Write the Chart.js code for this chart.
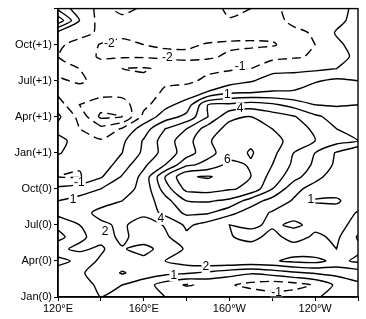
<!DOCTYPE html>
<html>
<head>
<meta charset="utf-8">
<script src="https://cdn.jsdelivr.net/npm/chart.js@4"></script>
<style>
  html, body { margin: 0; padding: 0; background: #fff; }
</style>
</head>
<body>
<canvas id="chartjs-0" width="366" height="319"></canvas>
<script>
// grid columns, degrees east
var lons = [120, 130, 140, 150, 160, 170, 180, 190, 200, 210, 220, 230, 240, 250, 260];
// grid rows, months after Jan(0), written top of the picture first
var rowMonths = [24, 23, 22, 21, 20, 19, 18, 17, 16, 15, 14, 13, 12, 11, 10, 9, 8, 7, 6, 5, 4, 3, 2, 1, 0];
// anomaly values, one row per month
var anomaly = [
  [ 0.8, -0.6, -1.2, -0.8, -1.1, -1.5, -1.6, -1.4, -2.3, -2.0, -1.2, -0.7, -0.6, -0.4,  0.3],
  [ 2.7,  0.0, -1.4, -1.2, -1.6, -1.2, -1.1, -1.0, -1.9, -1.6, -1.3, -0.8, -0.7, -0.3,  0.4],
  [-0.3, -0.8, -1.1, -1.7, -1.5, -1.6, -1.5, -1.4, -1.5, -1.6, -1.7, -1.2, -0.9,  0.1,  0.5],
  [-0.9, -1.2, -2.1, -2.3, -2.0, -1.9, -1.8, -2.1, -2.2, -2.2, -2.1, -1.6, -1.0, -0.2,  0.4],
  [-1.0, -1.3, -2.2, -2.1, -2.1, -2.2, -2.3, -2.2, -1.8, -1.5, -1.3, -1.1, -0.9, -0.3,  0.2],
  [-0.8, -1.0, -1.3, -1.0, -0.9, -1.2, -1.3, -1.2, -1.1, -1.0, -0.3, -0.3, -0.2,  0.0,  0.1],
  [-1.1, -0.9, -1.2, -1.4, -1.2, -1.1, -1.2, -0.8, -0.5, -0.1,  0.4,  0.6,  0.9,  1.2,  1.0],
  [-1.2, -1.3, -1.6, -1.7, -1.3, -0.9, -0.5,  0.1,  0.9,  1.0,  1.1,  1.1,  1.5,  1.9,  1.7],
  [-0.5, -2.0, -2.6, -2.4, -1.3, -0.3,  0.4,  3.0,  3.2,  3.5,  3.2,  2.6,  2.0,  1.9,  2.0],
  [ 0.2, -1.3, -3.2, -3.0, -0.7,  0.5,  1.3,  3.0,  4.8,  5.0,  4.5,  4.1,  3.2,  2.6,  2.4],
  [-0.3, -1.0, -1.7, -0.9,  0.5,  2.0,  3.0,  4.5,  5.3,  5.5,  5.0,  4.5,  3.8,  3.0,  2.5],
  [ 0.3, -0.4, -0.9, -0.2,  1.1,  2.5,  3.6,  4.9,  5.5,  5.8,  5.3,  4.7,  4.0,  3.4,  3.0],
  [ 0.1, -0.5, -1.0,  0.0,  1.2,  2.4,  3.5,  4.7,  5.5,  6.1,  5.3,  4.0,  3.0,  1.9,  1.0],
  [-0.6, -0.9, -0.6,  0.5,  1.8,  3.0,  4.8,  5.3,  6.3,  5.9,  5.0,  3.8,  2.8,  1.8,  1.2],
  [-1.0, -1.1, -0.1,  1.1,  2.3,  5.0,  6.9,  7.1,  6.6,  6.0,  4.6,  3.4,  2.3,  1.5,  1.3],
  [ 0.2,  0.6,  1.0,  1.6,  2.3,  4.5,  6.3,  6.4,  6.1,  5.8,  4.0,  2.3,  1.6,  1.3,  1.6],
  [ 1.0,  1.3,  1.6,  2.0,  2.4,  3.6,  5.0,  5.1,  4.8,  3.5,  2.6,  1.9,  0.9,  0.9,  1.4],
  [ 1.3,  1.6,  2.3,  2.9,  2.3,  3.3,  4.2,  4.1,  3.3,  2.5,  1.9,  1.6,  1.5,  1.3,  2.1],
  [ 0.3,  1.0,  1.8,  2.2,  1.4,  2.1,  3.2,  2.6,  2.0,  2.2,  1.8,  2.2,  1.7,  1.5,  2.5],
  [-0.4,  0.8,  1.4,  2.3,  1.3,  1.8,  2.8,  3.0,  2.1,  1.6,  2.4,  1.5,  2.2,  1.8,  3.1],
  [ 0.8,  1.2,  0.8,  1.9,  2.4,  1.5,  2.1,  2.6,  2.5,  2.6,  2.2,  2.6,  2.3,  2.0,  2.8],
  [-0.4,  0.3,  1.2,  1.4,  1.7,  2.0,  2.5,  2.8,  2.9,  2.8,  2.9,  3.2,  3.3,  2.7,  3.2],
  [ 0.6,  0.9,  1.3,  2.1,  1.5,  1.3,  1.1,  0.8,  0.4,  0.1,  0.4,  0.8,  1.1,  1.3,  1.5],
  [ 0.6,  0.8,  1.1,  1.0,  0.5, -0.5, -1.1, -0.8, -0.9, -1.3, -1.6, -1.4, -0.9,  0.2,  0.8],
  [ 0.7,  0.9,  1.0,  0.6,  0.3,  0.0, -0.2, -0.4, -0.3, -0.3, -0.5, -0.4, -0.1,  0.3,  0.6]
];
var levels = [-3, -2, -1, 0, 1, 2, 3, 4, 5, 6, 7];
var monthTickLabels = ["Jan(0)", "Apr(0)", "Jul(0)", "Oct(0)", "Jan(+1)", "Apr(+1)", "Jul(+1)", "Oct(+1)"];
// contour labels: text, longitude, month
var labelText = ["-2", "-2", "-1", "1", "4", "6", "-1", "1", "4", "2", "1", "1", "2", "-1"];
var labelLon = [144, 171, 205, 199, 205, 199, 130, 127, 168, 142, 238, 174, 189, 222];
var labelMonth = [21.1, 19.9, 19.2, 16.8, 15.7, 11.4, 9.5, 8.1, 6.5, 5.4, 8.1, 1.8, 2.5, 0.4];

// rows bottom first for the contouring
var grid = anomaly.slice().reverse();
var ys = rowMonths.slice().reverse();

function lonLabel(v) {
    if (v <= 180) return v + "°E";
    return (360 - v) + "°W";
}

// marching squares, one segment list per level
function contourSegments(level) {
    var segs = [];
    for (var j = 0; j < ys.length - 1; j++) {
        for (var i = 0; i < lons.length - 1; i++) {
            var v0 = grid[j][i], v1 = grid[j][i + 1], v2 = grid[j + 1][i + 1], v3 = grid[j + 1][i];
            var x0 = lons[i], x1 = lons[i + 1], y0 = ys[j], y1 = ys[j + 1];
            var idx = (v0 > level ? 1 : 0) | (v1 > level ? 2 : 0) | (v2 > level ? 4 : 0) | (v3 > level ? 8 : 0);
            if (idx === 0 || idx === 15) continue;
            var e = [
                [x0 + (level - v0) / (v1 - v0) * (x1 - x0), y0],
                [x1, y0 + (level - v1) / (v2 - v1) * (y1 - y0)],
                [x0 + (level - v3) / (v2 - v3) * (x1 - x0), y1],
                [x0, y0 + (level - v0) / (v3 - v0) * (y1 - y0)]
            ];
            var centre = (v0 + v1 + v2 + v3) / 4;
            var pairs;
            if (idx === 5) {
                pairs = centre > level ? [[0, 1], [2, 3]] : [[3, 0], [1, 2]];
            } else if (idx === 10) {
                pairs = centre > level ? [[3, 0], [1, 2]] : [[0, 1], [2, 3]];
            } else {
                var crossed = [];
                if ((idx & 1) !== ((idx & 2) >> 1)) crossed.push(0);
                if (((idx & 2) >> 1) !== ((idx & 4) >> 2)) crossed.push(1);
                if (((idx & 8) >> 3) !== ((idx & 4) >> 2)) crossed.push(2);
                if ((idx & 1) !== ((idx & 8) >> 3)) crossed.push(3);
                pairs = [crossed];
            }
            for (var p = 0; p < pairs.length; p++) {
                segs.push([e[pairs[p][0]], e[pairs[p][1]]]);
            }
        }
    }
    return segs;
}

// join the little segments into long lines so the dashes run on
function joinSegments(segs) {
    var key = function(pt) { return pt[0].toFixed(6) + "," + pt[1].toFixed(6); };
    var ends = {};
    segs.forEach(function(s, k) {
        [key(s[0]), key(s[1])].forEach(function(kk) {
            if (!ends[kk]) ends[kk] = [];
            ends[kk].push(k);
        });
    });
    var used = [];
    var lines = [];
    for (var k = 0; k < segs.length; k++) {
        if (used[k]) continue;
        used[k] = true;
        var line = [segs[k][0], segs[k][1]];
        for (var pass = 0; pass < 2; pass++) {
            while (true) {
                var tip = pass === 0 ? line[line.length - 1] : line[0];
                var list = ends[key(tip)];
                var next = -1;
                for (var c = 0; c < list.length; c++) {
                    if (!used[list[c]]) { next = list[c]; break; }
                }
                if (next < 0) break;
                used[next] = true;
                var s = segs[next];
                var other = key(s[0]) === key(tip) ? s[1] : s[0];
                if (pass === 0) line.push(other); else line.unshift(other);
            }
        }
        lines.push(line);
    }
    return lines;
}

var datasets = [];
levels.forEach(function(level) {
    joinSegments(contourSegments(level)).forEach(function(line) {
        datasets.push({
            data: line.map(function(pt) { return {x: pt[0], y: pt[1]}; }),
            showLine: true,
            pointRadius: 0,
            borderColor: "#000",
            borderWidth: 1.4,
            borderDash: level < 0 ? [9, 5] : [],
            tension: 0.25,
            fill: false
        });
    });
});

var frame = {
    id: "frame",
    afterDatasetsDraw: function(chart) {
        var ctx = chart.ctx, a = chart.chartArea;
        var xs = chart.scales.x, yscale = chart.scales.y;
        ctx.save();
        ctx.font = "12px 'Liberation Sans', Arial, sans-serif";
        ctx.textAlign = "center";
        ctx.textBaseline = "middle";
        for (var i = 0; i < labelText.length; i++) {
            var px = xs.getPixelForValue(labelLon[i]);
            var py = yscale.getPixelForValue(labelMonth[i]);
            var w = ctx.measureText(labelText[i]).width;
            ctx.fillStyle = "#fff";
            ctx.fillRect(px - w / 2 - 1, py - 6, w + 2, 12);
            ctx.fillStyle = "#000";
            ctx.fillText(labelText[i], px, py);
        }
        ctx.strokeStyle = "#000";
        ctx.lineWidth = 1.4;
        ctx.strokeRect(a.left, a.top, a.right - a.left, a.bottom - a.top);
        ctx.restore();
    }
};

var tickFont = {family: "'Liberation Sans', Arial, sans-serif", size: 11};

new Chart(document.getElementById("chartjs-0"), {
    type: "scatter",
    data: {datasets: datasets},
    options: {
        responsive: false,
        animation: false,
        layout: {padding: {left: 0, right: 8, top: 5, bottom: 0}},
        plugins: {legend: {display: false}, tooltip: {enabled: false}},
        scales: {
            x: {
                type: "linear",
                min: 120,
                max: 260,
                afterFit: function(s) { s.height = 22; },
                ticks: {
                    stepSize: 20,
                    autoSkip: false,
                    maxRotation: 0,
                    color: "#000",
                    font: tickFont,
                    padding: 1,
                    callback: function(v) { return (v - 120) % 40 === 0 && v < 260 ? lonLabel(v) : ""; }
                },
                grid: {drawOnChartArea: false, drawTicks: true, tickLength: 4, color: "#000"},
                border: {display: true, color: "#000", width: 1.4}
            },
            y: {
                type: "linear",
                min: 0,
                max: 24,
                afterFit: function(s) { s.width = 58; },
                ticks: {
                    stepSize: 3,
                    autoSkip: false,
                    color: "#000",
                    font: tickFont,
                    padding: 2,
                    callback: function(v) { return monthTickLabels[v / 3] || ""; }
                },
                grid: {drawOnChartArea: false, drawTicks: true, tickLength: 4, color: "#000"},
                border: {display: true, color: "#000", width: 1.4}
            }
        }
    },
    plugins: [frame]
});
</script>
</body>
</html>
